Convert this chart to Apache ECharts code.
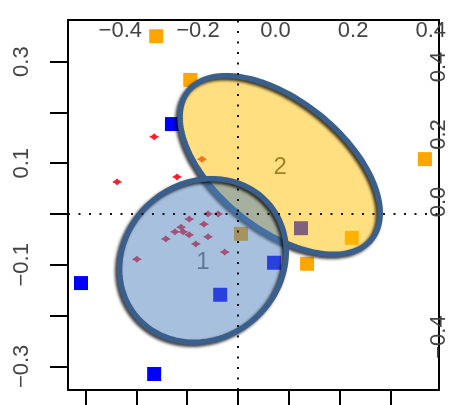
<!DOCTYPE html>
<html>
<head>
<meta charset="utf-8">
<script src="https://cdn.jsdelivr.net/npm/echarts@6/dist/echarts.min.js"></script>
<style>
  html, body { margin: 0; padding: 0; background: #fff; }
  #chart { width: 452px; height: 405px; }
</style>
</head>
<body>
<div id="chart"></div>
<script>
// Sample scores on the first two components, split by group
const group2X = [-0.161, -0.094, 0.368, 0.224, 0.136, 0.006];
const group2Y = [0.350, 0.264, 0.108, -0.047, -0.098, -0.039];

const group1X = [-0.130, -0.309, -0.165, -0.035, 0.071, 0.124];
const group1Y = [0.177, -0.136, -0.315, -0.159, -0.096, -0.028];

// Variable markers
const varX = [-0.165, -0.238, -0.120, -0.071, -0.059, -0.039, -0.096, -0.067, -0.112,
              -0.124, -0.108, -0.096, -0.059, -0.142, -0.083, -0.026, -0.199];
const varY = [0.152, 0.063, 0.073, 0.108, 0.000, 0.000, -0.010, -0.020, -0.026,
              -0.035, -0.035, -0.041, -0.045, -0.049, -0.059, -0.075, -0.089];

// Group ellipses: centre, semi-axes, tilt (degrees)
const ellipseNames = ['2', '1'];
const ellipseCX = [0.083, -0.069];
const ellipseCY = [0.0965, -0.0915];
const ellipseA = [0.232, 0.171];
const ellipseB = [0.126, 0.1535];
const ellipseAngle = [-39, 40];

// Axis ticks and labels
const bottomTicks = [-0.3, -0.2, -0.1, 0, 0.1, 0.2, 0.3];
const leftTicks = [-0.3, -0.2, -0.1, 0, 0.1, 0.2, 0.3];
const leftLabels = [-0.3, -0.1, 0.1, 0.3];
const topLabels = [-0.4, -0.2, 0, 0.2, 0.4];
const rightLabels = [-0.4, 0, 0.2, 0.4];
const zeroLines = [0];

const FONT = 'Liberation Sans';
const ellipseFills = ['rgba(255,192,0,0.5)', 'rgba(79,129,189,0.5)'];
const labelColors = ['#404040', '#707070'];

function fmt(v) {
  const s = Math.abs(v).toFixed(1);
  return (v < -1e-9 ? '\u2212' : '') + s;
}

function pairs(xs, ys) { return xs.map((x, i) => [x, ys[i]]); }

const chart = echarts.init(document.getElementById('chart'), null, { renderer: 'canvas' });

const boxLine = { show: true, onZero: false, lineStyle: { color: '#000', width: 2 } };
const labelText = { color: '#444', fontFamily: FONT, fontSize: 22 };

// Small four-pointed marker for the variables
const sparkle = 'path://M0,3 L3,1.6 L5,0 L7,1.6 L10,3 L7,4.4 L5,6 L3,4.4 Z';

chart.setOption({
  animation: false,
  backgroundColor: '#fff',
  grid: { left: 68, right: 13, top: 20, bottom: 15, containLabel: false },
  xAxis: [
    {
      type: 'value', position: 'bottom', min: -0.3346, max: 0.3957,
      axisLine: boxLine,
      axisTick: { show: true, customValues: bottomTicks, length: 18, lineStyle: { color: '#000', width: 2 } },
      axisLabel: { show: false },
      splitLine: { show: false }
    },
    {
      type: 'value', position: 'top', min: -0.5348, max: 0.4214,
      axisLine: boxLine,
      axisTick: { show: false },
      axisLabel: Object.assign({ customValues: topLabels, inside: true, margin: 0, formatter: fmt }, labelText),
      splitLine: { show: false }
    }
  ],
  yAxis: [
    {
      type: 'value', position: 'left', min: -0.3465, max: 0.3819,
      axisLine: boxLine,
      axisTick: { show: true, customValues: leftTicks, length: 18, lineStyle: { color: '#000', width: 2 } },
      axisLabel: Object.assign({ customValues: leftLabels, rotate: 90, margin: 35, formatter: fmt }, labelText),
      splitLine: { show: false }
    },
    {
      type: 'value', position: 'right', min: -0.557, max: 0.5393,
      axisLine: boxLine,
      axisTick: { show: false },
      axisLabel: Object.assign({ customValues: rightLabels, rotate: 90, inside: true, margin: -11, formatter: fmt }, labelText),
      splitLine: { show: false }
    }
  ],
  series: [
    {
      name: 'group labels',
      type: 'custom',
      xAxisIndex: 0, yAxisIndex: 0,
      z: 2,
      data: ellipseNames.map((n, i) => [ellipseCX[i], ellipseCY[i]]),
      renderItem: function (params, api) {
        const p = api.coord([api.value(0), api.value(1)]);
        return {
          type: 'text', x: p[0], y: p[1] + 2,
          style: {
            text: ellipseNames[params.dataIndex],
            fill: labelColors[params.dataIndex],
            font: '24px ' + FONT,
            align: 'center', verticalAlign: 'middle'
          }
        };
      }
    },
    {
      name: 'group 2',
      type: 'scatter', xAxisIndex: 0, yAxisIndex: 0, z: 2,
      symbol: 'rect', symbolSize: 14,
      itemStyle: { color: '#FFA500', opacity: 1 },
      data: pairs(group2X, group2Y),
      markLine: {
        silent: true, symbol: 'none', label: { show: false },
        lineStyle: { color: '#111', width: 2, type: [2, 8.5] },
        data: [{ xAxis: zeroLines[0] }, { yAxis: zeroLines[0] }]
      }
    },
    {
      name: 'group 1',
      type: 'scatter', xAxisIndex: 0, yAxisIndex: 0, z: 2,
      symbol: 'rect', symbolSize: 14,
      itemStyle: { color: '#0000FF', opacity: 1 },
      data: pairs(group1X, group1Y)
    },
    {
      name: 'variables',
      type: 'scatter', xAxisIndex: 0, yAxisIndex: 0, z: 2,
      symbol: sparkle, symbolSize: [10, 7],
      itemStyle: { color: '#F42030', opacity: 1 },
      data: pairs(varX, varY)
    },
    {
      name: 'ellipses',
      type: 'custom',
      xAxisIndex: 0, yAxisIndex: 0,
      z: 3,
      data: ellipseNames.map((n, i) => [ellipseCX[i], ellipseCY[i], ellipseA[i], ellipseB[i], ellipseAngle[i]]),
      renderItem: function (params, api) {
        const cx = api.value(0), cy = api.value(1);
        const a = api.value(2), b = api.value(3);
        const ang = api.value(4) * Math.PI / 180;
        const pts = [];
        const N = 160;
        for (let k = 0; k < N; k++) {
          const t = 2 * Math.PI * k / N;
          const ex = a * Math.cos(t), ey = b * Math.sin(t);
          pts.push(api.coord([
            cx + ex * Math.cos(ang) - ey * Math.sin(ang),
            cy + ex * Math.sin(ang) + ey * Math.cos(ang)
          ]));
        }
        return {
          type: 'group',
          children: [
            { type: 'polygon', shape: { points: pts }, style: { fill: ellipseFills[params.dataIndex], stroke: null } },
            {
              type: 'polygon', shape: { points: pts },
              style: {
                fill: null, stroke: '#3A5F8C', lineWidth: 5.5,
                shadowBlur: 3, shadowColor: 'rgba(0,0,0,0.75)', shadowOffsetX: -2, shadowOffsetY: 2
              }
            }
          ]
        };
      }
    }
  ]
});
</script>
</body>
</html>
